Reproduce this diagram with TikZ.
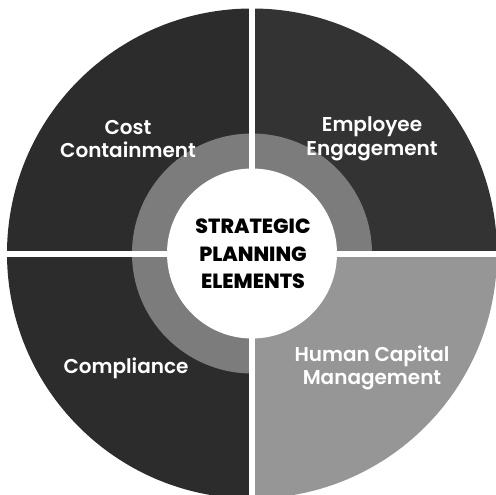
\documentclass[tikz,border=0pt]{standalone}
\usepackage{fontspec}
\usetikzlibrary{calc}
\setmainfont{Poppins}
\newfontfamily\psemi{Poppins SemiBold}
\newfontfamily\pxb{Poppins ExtraBold}
\begin{document}
\begin{tikzpicture}[x=1pt,y=1pt,
  label/.style={text=white,font=\psemi\fontsize{20}{23.5}\selectfont,align=center},
  centertext/.style={text=black,font=\pxb\fontsize{20.5}{27.5}\selectfont,align=center},
  gapline/.style={white,line width=6pt}]
\useasboundingbox (0,0) rectangle (496,-495);
\clip (0,0) rectangle (496,-495);
\coordinate (c) at (252,-253.5);
\definecolor{qdark}{HTML}{2C2C2C}
\definecolor{qdarkb}{HTML}{333333}
\definecolor{qlight}{HTML}{969696}
\definecolor{ringc}{HTML}{7C7C7C}
% quadrants
\fill[qdarkb] (c) -- ++(0:245) arc (0:90:245) -- cycle;
\fill[qdark] (c) -- ++(90:245) arc (90:180:245) -- cycle;
\fill[qdark] (c) -- ++(180:245) arc (180:270:245) -- cycle;
\fill[qlight] (c) -- ++(270:245) arc (270:360:245) -- cycle;
% ring
\fill[ringc] (c) -- ++(0:120) arc (0:270:120) -- cycle;
% gaps
\draw[gapline] ($(c)+(-250,0)$) -- ($(c)+(250,0)$);
\draw[gapline] ($(c)+(0,250)$) -- ($(c)+(0,-250)$);
% center
\node[circle,fill=white,minimum size=170pt,inner sep=0pt] (hub) at (c) {};
\node[centertext] (title) at (253,-254) {STRATEGIC\\PLANNING\\ELEMENTS};
\node[label] (cost) at (128,-139) {Cost\\Containment};
\node[label] (emp) at (372,-139) {Employee\\Engagement};
\node[label] (comp) at (126,-368) {Compliance};
\node[label] (hcm) at (372,-368) {Human Capital\\Management};
\end{tikzpicture}
\end{document}
